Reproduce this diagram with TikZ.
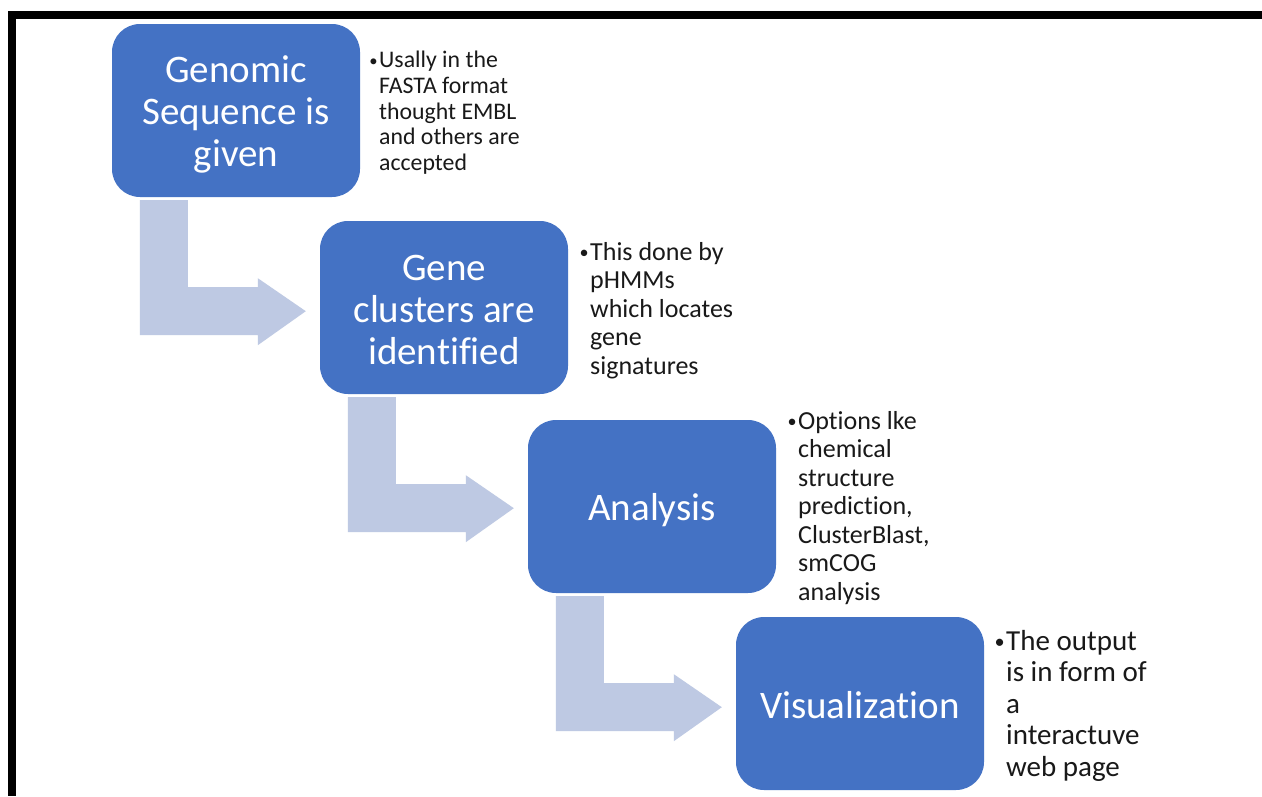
\documentclass[tikz,border=0pt]{standalone}
\usepackage{fontspec}
\setmainfont{Carlito}[Ligatures={NoCommon}]
\usetikzlibrary{calc}
\definecolor{boxblue}{RGB}{68,114,196}
\definecolor{arrowblue}{RGB}{190,201,227}
\definecolor{notetext}{RGB}{25,25,25}
\newcommand{\bul}{\llap{\raisebox{0.05em}{\scalebox{0.7}{•}}\hspace{1.5pt}}}
\begin{document}
\begin{tikzpicture}[x=1pt,y=-1pt,
  stepbox/.style={rectangle,rounded corners=28pt,fill=boxblue,minimum width=248pt,minimum height=173pt,inner sep=0pt},
  boxtext/.style={text=white,align=center,inner sep=0pt,font=\fontsize{39}{42}\selectfont},
  note/.style={anchor=north west,align=left,inner sep=0pt,text=notetext},
  bentarrow/.style={fill=arrowblue,draw=none}]
\useasboundingbox (0,0) rectangle (1262,796);
\fill[white] (0,0) rectangle (1262,796);
% frame
\fill[black] (8,11) rectangle (1262,19);
\fill[black] (8,11) rectangle (16,796);
% boxes
\node[stepbox] (b1) at (236,110.5) {};
\node[stepbox] (b2) at (444,307.5) {};
\node[stepbox] (b3) at (652,506.5) {};
\node[stepbox] (b4) at (860,703.5) {};
\node[boxtext] (t1) at ($(b1.center)+(0,4)$) {Genomic\\Sequence is\\given};
\node[boxtext] (t2) at ($(b2.center)+(0,2)$) {Gene\\clusters are\\identified};
\node[boxtext] (t3) at ($(b3.center)+(0,4)$) {Analysis};
\node[boxtext] (t4) at ($(b4.center)+(0,2)$) {Visualization};
% bent arrows
\foreach \a in {b1,b2,b3}{
  \fill[bentarrow] ($(\a.south west)+(28,3)$) -- ($(\a.south west)+(76,3)$) -- ($(\a.south west)+(76,90)$)
    -- ($(\a.south west)+(146,90)$) -- ($(\a.south west)+(146,81)$) -- ($(\a.south west)+(194,114)$)
    -- ($(\a.south west)+(146,148)$) -- ($(\a.south west)+(146,138)$) -- ($(\a.south west)+(28,138)$) -- cycle;
}
% notes
\node[note,font=\fontsize{23.8}{25.7}\selectfont] (n1) at (379,51)
  {\bul Usally in the\\FASTA format\\thought EMBL\\and others are\\accepted};
\node[note,font=\fontsize{26}{28.5}\selectfont] (n2) at (590,242)
  {\bul This done by\\pHMMs\\which locates\\gene\\signatures};
\node[note,font=\fontsize{26}{28.5}\selectfont] (n3) at (798,411)
  {\bul Options lke\\chemical\\structure\\prediction,\\ClusterBlast,\\smCOG\\analysis};
\node[note,font=\fontsize{29}{31.5}\selectfont] (n4) at (1006,630)
  {\bul The output\\is in form of\\a\\interactuve\\web page};
\end{tikzpicture}
\end{document}
